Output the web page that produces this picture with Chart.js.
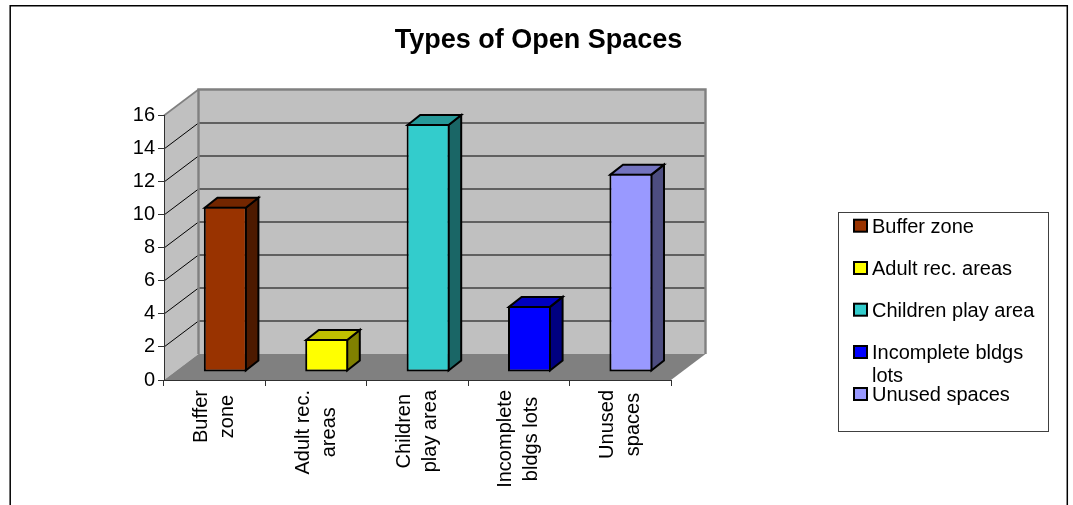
<!DOCTYPE html>
<html><head><meta charset="utf-8">
<style>html,body{margin:0;padding:0;background:#fff;overflow:hidden}#w{position:absolute;left:0;top:0;width:1073px;height:505px}</style>
<script src="https://cdn.jsdelivr.net/npm/chart.js@4/dist/chart.umd.min.js"></script>
</head><body><div id="w"><canvas id="c" width="1073" height="505"></canvas></div>
<script>
const titleText = "Types of Open Spaces";
const tickLabels = [["Buffer","zone"],["Adult rec.","areas"],["Children","play area"],["Incomplete","bldgs lots"],["Unused","spaces"]];
const legendLabels = [["Buffer zone"],["Adult rec. areas"],["Children play area"],["Incomplete bldgs","lots"],["Unused spaces"]];
const values = [10,2,15,4,12];
const frontColors = ["#993300","#FFFF00","#33CCCC","#0000FF","#9999FF"];
const sideColors  = ["#4D1A00","#808000","#1A6666","#000080","#4D4D80"];
const topColors   = ["#732600","#BFBF00","#269999","#0000BF","#7373BF"];

const FONT = '"Liberation Sans", Arial, sans-serif';
const BACK = {dx:34.5, dy:-26};   // depth of the wall box
const BAR  = {dx:10.6, dy:-8};    // bar placement inside the box
const SIDE = {dx:12.6, dy:-10};   // bar depth

const legendBox = {
  id:'legendBox', position:'right', weight:0, fullSize:false, width:402, height:0,
  options:{},
  isHorizontal(){return false},
  update(){this.width=402; return {};},
  getPadding(){return {left:0,right:0,top:0,bottom:0}},
  draw(){
    const ctx=this.ctx;
    ctx.save();
    ctx.fillStyle='#fff'; ctx.strokeStyle='#404040'; ctx.lineWidth=1;
    ctx.fillRect(838.5,212.5,210,219); ctx.strokeRect(838.5,212.5,210,219);
    const rowBase=[232.7,275,316.7,359,401];
    const lineH=[0,0,0,22.7,0];
    ctx.font='20px '+FONT; ctx.textBaseline='alphabetic'; ctx.textAlign='left';
    legendLabels.forEach((lines,i)=>{
      const sy=rowBase[i]-13;
      ctx.fillStyle=frontColors[i]; ctx.strokeStyle='#000'; ctx.lineWidth=2;
      ctx.fillRect(854,sy,13,12); ctx.strokeRect(854,sy,13,12);
      ctx.fillStyle='#000';
      lines.forEach((t,k)=>ctx.fillText(t,872,rowBase[i]+k*lineH[i]));
    });
    ctx.restore();
  }
};

const box3d = {
  id:'box3d',
  beforeDraw(chart){
    const ctx=chart.ctx, y=chart.scales.y, x=chart.scales.x;
    const L=x.left,R=x.right,T=y.getPixelForValue(16),B=y.getPixelForValue(0);
    const d=BACK;
    // frame
    ctx.save();
    ctx.strokeStyle='#000'; ctx.lineWidth=1.5;
    ctx.beginPath(); ctx.moveTo(10.2,505); ctx.lineTo(10.2,5.8); ctx.lineTo(1067.3,5.8); ctx.lineTo(1067.3,505); ctx.stroke();
    // walls
    ctx.fillStyle='#C0C0C0';
    ctx.fillRect(L+d.dx,T+d.dy,R-L,B-T);
    ctx.beginPath(); ctx.moveTo(L,T); ctx.lineTo(L+d.dx,T+d.dy); ctx.lineTo(L+d.dx,B+d.dy); ctx.lineTo(L,B); ctx.closePath(); ctx.fill();
    ctx.fillStyle='#808080';
    ctx.beginPath(); ctx.moveTo(L,B); ctx.lineTo(L+d.dx,B+d.dy); ctx.lineTo(R+d.dx,B+d.dy); ctx.lineTo(R,B); ctx.closePath(); ctx.fill();
    // grid
    y.ticks.forEach(t=>{
      if(t.value<=0||t.value>=16) return;
      const p=Math.round(y.getPixelForValue(t.value));
      ctx.strokeStyle='#000'; ctx.lineWidth=1;
      ctx.beginPath(); ctx.moveTo(L,p); ctx.lineTo(L+d.dx,p+d.dy); ctx.stroke();
      ctx.strokeStyle='#404040'; ctx.lineWidth=1.5;
      ctx.beginPath(); ctx.moveTo(L+d.dx,p+d.dy); ctx.lineTo(R+d.dx,p+d.dy); ctx.stroke();
    });
    // wall edges
    ctx.strokeStyle='#808080'; ctx.lineWidth=2.4;
    ctx.beginPath(); ctx.moveTo(L+d.dx,B+d.dy); ctx.lineTo(L+d.dx,T+d.dy); ctx.lineTo(R+d.dx,T+d.dy); ctx.lineTo(R+d.dx,B+d.dy); ctx.stroke();
    ctx.lineWidth=1.6;
    ctx.beginPath(); ctx.moveTo(L,T); ctx.lineTo(L+d.dx,T+d.dy); ctx.stroke();
    ctx.restore();
    // centre the wrapped lines of every rotated tick label on one another
    ctx.save();
    x.getLabelItems().forEach(it=>{
      if(it._c) return; it._c=true;
      ctx.font=it.font.string;
      const w=Math.max(...[].concat(it.label).map(s=>ctx.measureText(s).width));
      it.options.textAlign='center';
      it.options.translation=[it.options.translation[0]-13,it.options.translation[1]+w/2];
    });
    ctx.restore();
  },
  beforeDatasetDraw(chart,args){
    const ctx=chart.ctx, s=SIDE;
    ctx.save();
    ctx.translate(BAR.dx,BAR.dy);
    ctx.lineWidth=2; ctx.strokeStyle='#000'; ctx.lineJoin='miter';
    args.meta.data.forEach((el,i)=>{
      const p=el.getProps(['x','y','base','width'],true);
      const r=p.x+p.width/2-1, l=p.x-p.width/2+1, t=p.y+1, b=p.base-1;
      ctx.fillStyle=sideColors[i];
      ctx.beginPath(); ctx.moveTo(r,t); ctx.lineTo(r+s.dx,t+s.dy); ctx.lineTo(r+s.dx,b+s.dy); ctx.lineTo(r,b); ctx.closePath(); ctx.fill(); ctx.stroke();
      ctx.fillStyle=topColors[i];
      ctx.beginPath(); ctx.moveTo(l,t); ctx.lineTo(l+s.dx,t+s.dy); ctx.lineTo(r+s.dx,t+s.dy); ctx.lineTo(r,t); ctx.closePath(); ctx.fill(); ctx.stroke();
    });
  },
  afterDatasetDraw(chart){ chart.ctx.restore(); }
};

const tickFont={family:FONT,size:20,lineHeight:1.3};
const chart=new Chart(document.getElementById('c'),{
  type:'bar',
  data:{labels:tickLabels,datasets:[{data:values,backgroundColor:frontColors,borderColor:'#000',borderWidth:2,borderSkipped:false,clip:false,categoryPercentage:1,barPercentage:0.424}]},
  plugins:[box3d,{id:'lg',beforeInit(c){legendBox.ctx=c.ctx;Chart.layouts.addBox(c,legendBox);}}],
  options:{
    responsive:false,animation:false,
    layout:{padding:{left:4,right:0,top:0,bottom:0}},
    plugins:{
      legend:{display:false},tooltip:{enabled:false},
      title:{display:true,text:titleText,color:'#000',font:{family:FONT,size:27,weight:'bold',lineHeight:1.2},padding:{top:24,bottom:59.1}}
    },
    scales:{
      x:{
        afterFit(s){s.height=125;},
        border:{color:'#303030',width:1},
        grid:{offset:true,drawOnChartArea:false,tickLength:6,tickWidth:1,tickColor:c=>c.index===5?'#808080':'#303030',color:'#303030'},
        ticks:{autoSkip:false,minRotation:90,maxRotation:90,padding:4,color:'#000',font:tickFont}
      },
      y:{
        min:0,max:16,
        afterFit(s){s.width=160;},
        border:{color:'#303030',width:1},
        grid:{drawOnChartArea:false,tickLength:6,tickWidth:1,tickColor:'#303030',color:'#303030'},
        ticks:{stepSize:2,padding:3,color:'#000',font:{family:FONT,size:20}}
      }
    }
  }
});
</script></body></html>
